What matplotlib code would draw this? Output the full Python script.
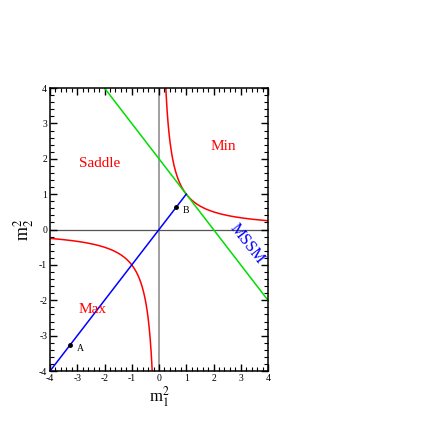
import numpy as np
import matplotlib
matplotlib.use('Agg')
import matplotlib.pyplot as plt
from matplotlib.ticker import MultipleLocator

plt.rcParams['font.family'] = ['Liberation Serif', 'DejaVu Serif']
plt.rcParams['mathtext.fontset'] = 'stix'
plt.rcParams['axes.unicode_minus'] = False

# data
ticks = [-4, -3, -2, -1, 0, 1, 2, 3, 4]
mssm_x = [-2, 4]
mssm_y = [4, -2]
diag_x = [-4, 1]
diag_y = [-4, 1]
point_names = ['A', 'B']
point_vals = [-3.25, 0.63]
region_names = ['Saddle', 'Min', 'Max']
region_x = [-2.17, 2.36, -2.43]
region_y = [1.86, 2.35, -2.25]

fig = plt.figure(figsize=(4.36, 4.36), dpi=100)
ax = fig.add_axes([0.1147, 0.149, 0.5, 0.649])

ax.axvline(0, color='#999999', lw=1.3, zorder=1)
ax.axhline(0, color='#555555', lw=0.9, zorder=1)

# hyperbola m1^2 * m2^2 = 1
xr = np.linspace(0.2, 4, 400)
ax.plot(xr, 1 / xr, color='red', lw=1.1)
xl = np.linspace(-4, -0.2, 400)
ax.plot(xl, 1 / xl, color='red', lw=1.1)

ax.plot(mssm_x, mssm_y, color='#00dd00', lw=1.1)
ax.plot(diag_x, diag_y, color='blue', lw=1.1)

for name, v in zip(point_names, point_vals):
    ax.plot(v, v, 'o', color='black', ms=2.5)
    ax.text(v + 0.25, v - 0.1, name, fontsize=7, va='center')

for name, x, y in zip(region_names, region_x, region_y):
    ax.text(x, y, name, color='red', fontsize=11, ha='center', va='center')
ax.text(3.22, -0.41, 'MSSM', color='blue', fontsize=11.5, rotation=-52,
        ha='center', va='center')

ax.set_xlim(-4, 4)
ax.set_ylim(-4, 4)
ax.set_xticks(ticks)
ax.set_yticks(ticks)
ax.xaxis.set_minor_locator(MultipleLocator(0.2))
ax.yaxis.set_minor_locator(MultipleLocator(0.2))
ax.tick_params(which='both', direction='in', top=True, right=True, labelsize=7, pad=2)
ax.tick_params(which='major', length=5, width=1)
ax.tick_params(which='minor', length=3, width=0.8)
for s in ax.spines.values():
    s.set_linewidth(1.1)

ax.set_xlabel('m$_1^2$', fontsize=12, labelpad=1)
ax.set_ylabel('m$_2^2$', fontsize=13, labelpad=2)

plt.savefig('out.png', dpi=100)
